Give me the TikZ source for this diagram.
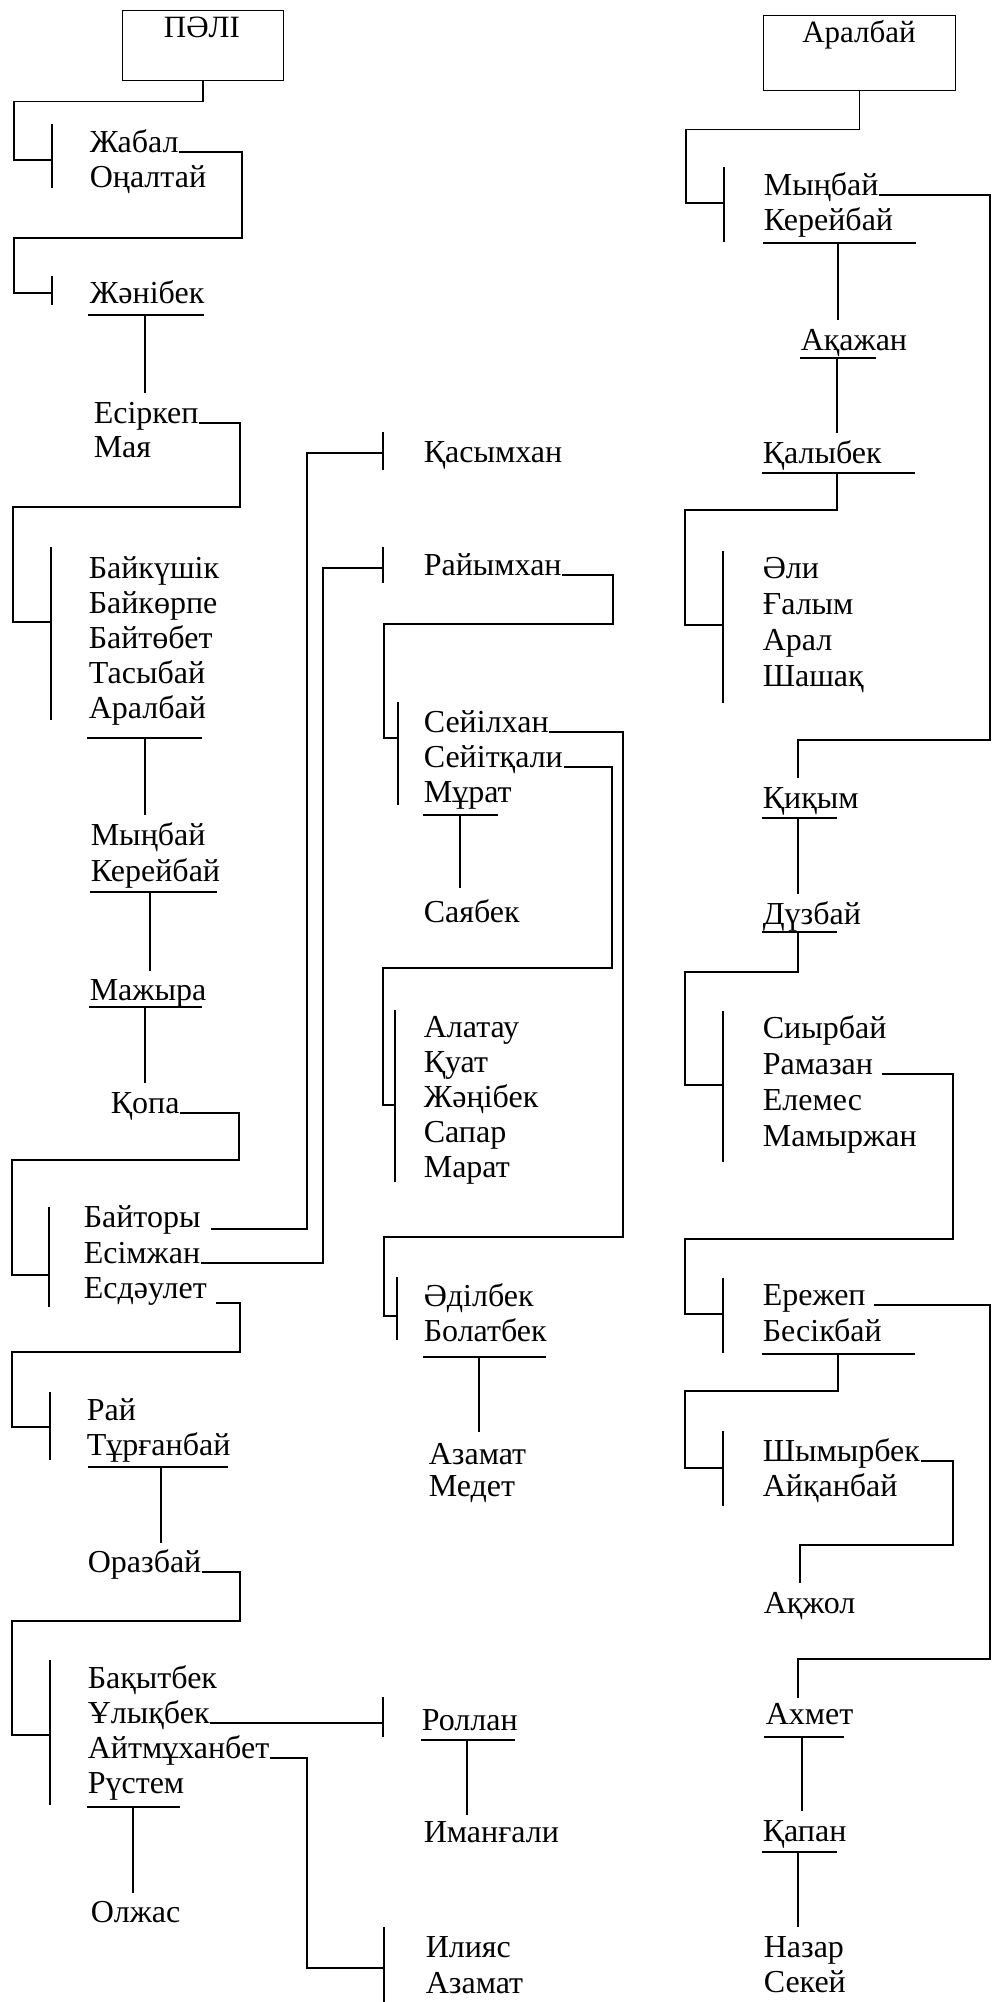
\documentclass[tikz,border=0pt]{standalone}
\usepackage{fontspec}
\setmainfont{Liberation Serif}
\usetikzlibrary{calc}
\begin{document}
\begin{tikzpicture}[x=1pt,y=-1pt,
  nm/.style={anchor=base west, inner sep=0pt, font=\fontsize{32}{35}\selectfont},
  ttl/.style={anchor=base, inner sep=0pt, font=\fontsize{31}{35}\selectfont},
  box/.style={draw, line width=1.3pt, anchor=north west, inner sep=0pt},
  every path/.style={line width=1.6pt}]
\useasboundingbox (0,0) rectangle (992,2002);
% ---------- left column ----------
\node[box, minimum width=161pt, minimum height=70pt] (palibox) at (122,10) {};
\node[ttl] (pali) at (202,38) {ПӘЛІ};
\node[nm] (jabal) at (89,152) {Жабал};
\node[nm] (onaltai) at (89,187) {Оңалтай};
\node[nm] (zhanibek) at (89,303) {Жәнібек};
\node[nm] (esirkep) at (93,423) {Есіркеп};
\node[nm] (maya) at (93,457) {Мая};
\node[nm] (baikushik) at (88,578) {Байкүшік};
\node[nm] (baikorpe) at (88,613) {Байкөрпе};
\node[nm] (baitobet) at (88,648) {Байтөбет};
\node[nm] (tasybai) at (88,683) {Тасыбай};
\node[nm] (aralbaiL) at (88,718) {Аралбай};
\node[nm] (mynbaiL) at (90,845) {Мыңбай};
\node[nm] (kereibaiL) at (90,881) {Керейбай};
\node[nm] (mazhyra) at (89,1000) {Мажыра};
\node[nm] (kopa) at (110,1113) {Қопа};
\node[nm] (baitory) at (83,1227) {Байторы};
\node[nm] (esimzhan) at (83,1263) {Есімжан};
\node[nm] (esdaulet) at (83,1298) {Есдәулет};
\node[nm] (rai) at (86,1420) {Рай};
\node[nm] (turganbai) at (86,1455) {Тұрғанбай};
\node[nm] (orazbai) at (87,1572) {Оразбай};
\node[nm] (bakytbek) at (87,1688) {Бақытбек};
\node[nm] (ulykbek) at (87,1723) {Ұлықбек};
\node[nm] (aitmukhanbet) at (87,1758) {Айтмұханбет};
\node[nm] (rustem) at (87,1793) {Рүстем};
\node[nm] (olzhas) at (90,1922) {Олжас};
% ---------- middle column ----------
\node[nm] (kasymkhan) at (423,462) {Қасымхан};
\node[nm] (raiymkhan) at (423,575) {Райымхан};
\node[nm] (seilkhan) at (423,732) {Сейілхан};
\node[nm] (seitkali) at (423,767) {Сейітқали};
\node[nm] (murat) at (423,802) {Мұрат};
\node[nm] (sayabek) at (423,922) {Саябек};
\node[nm] (alatau) at (423,1037) {Алатау};
\node[nm] (kuat) at (423,1072) {Қуат};
\node[nm] (zhanibekM) at (423,1107) {Жәңібек};
\node[nm] (sapar) at (423,1142) {Сапар};
\node[nm] (marat) at (423,1177) {Марат};
\node[nm] (adilbek) at (423,1306) {Әділбек};
\node[nm] (bolatbek) at (423,1341) {Болатбек};
\node[nm] (azamatA) at (428,1464) {Азамат};
\node[nm] (medet) at (428,1496) {Медет};
\node[nm] (rollan) at (421,1730) {Роллан};
\node[nm] (imangali) at (423,1842) {Иманғали};
\node[nm] (iliyas) at (425,1957) {Илияс};
\node[nm] (azamatB) at (425,1993) {Азамат};
% ---------- right column ----------
\node[box, minimum width=192pt, minimum height=75pt] (aralbox) at (763,15) {};
\node[ttl] (aralbaiT) at (859,43) {Аралбай};
\node[nm] (mynbaiR) at (763,195) {Мыңбай};
\node[nm] (kereibaiR) at (763,230) {Керейбай};
\node[nm] (akazhan) at (800,350) {Ақажан};
\node[nm] (kalybek) at (762,463) {Қалыбек};
\node[nm] (ali) at (762,578) {Әли};
\node[nm] (galym) at (762,614) {Ғалым};
\node[nm] (aral) at (762,650) {Арал};
\node[nm] (shashak) at (762,686) {Шашақ};
\node[nm] (kikym) at (762,808) {Қиқым};
\node[nm] (duzbai) at (762,924) {Дүзбай};
\node[nm] (siyrbai) at (762,1038) {Сиырбай};
\node[nm] (ramazan) at (762,1074) {Рамазан};
\node[nm] (elemes) at (762,1110) {Елемес};
\node[nm] (mamyrzhan) at (762,1146) {Мамыржан};
\node[nm] (erezhep) at (762,1305) {Ережеп};
\node[nm] (besikbai) at (762,1341) {Бесікбай};
\node[nm] (shymyrbek) at (762,1461) {Шымырбек};
\node[nm] (aikanbai) at (762,1496) {Айқанбай};
\node[nm] (akzhol) at (763,1613) {Ақжол};
\node[nm] (akhmet) at (765,1724) {Ахмет};
\node[nm] (kapan) at (762,1841) {Қапан};
\node[nm] (nazar) at (763,1957) {Назар};
\node[nm] (sekei) at (763,1992) {Секей};

% ===== left connectors =====
\draw (palibox.south) -- ++(0,20) -| (14,160) -- (52,160);
\draw (52,124) -- (52,188);
\draw (jabal.base east) -| (242,238) -| (14,293) -- (52,293);
\draw (52,276) -- (52,305);
\draw (88,315) -- (204,315);
\draw (145,315) -- (145,393);
\draw (esirkep.base east) -| (240,507) -| (13,622) -- (51,622);
\draw (51,547) -- (51,720);
\draw (87,738) -- (202,738);
\draw (145,738) -- (145,815);
\draw (90,892) -- (217,892);
\draw (150,892) -- (150,971);
\draw (89,1007) -- (202,1007);
\draw (145,1007) -- (145,1083);
\draw (kopa.base east) -| (239,1160) -| (12,1275) -- (49,1275);
\draw (49,1207) -- (49,1307);
\draw ($(baitory.base east)+(10,2)$) -| (307,453) -- (383,453);
\draw (esimzhan.base east) -| (323,568) -- (383,568);
\draw ($(esdaulet.base east)+(8,5)$) -| (240,1352) -| (12,1427) -- (50,1427);
\draw (50,1392) -- (50,1460);
\draw (88,1467) -- (228,1467);
\draw (161,1467) -- (161,1543);
\draw (orazbai.base east) -| (240,1621) -| (12,1735) -- (50,1735);
\draw (50,1660) -- (50,1805);
\draw (ulykbek.base east) -- (383,1723);
\draw (383,1697) -- (383,1737);
\draw (aitmukhanbet.base east) -| (307,1968) -- (384,1968);
\draw (384,1927) -- (384,2002);
\draw (87,1807) -- (180,1807);
\draw (133,1807) -- (133,1893);
% ===== middle connectors =====
\draw (383,432) -- (383,470);
\draw (383,547) -- (383,583);
\draw (raiymkhan.base east) -| (613,624) -| (384,738) -- (398,738);
\draw (398,702) -- (398,805);
\draw (423,815) -- (498,815);
\draw (460,815) -- (460,888);
\draw (seitkali.base east) -| (612,968) -| (383,1105) -- (395,1105);
\draw (395,1010) -- (395,1182);
\draw (seilkhan.base east) -| (623,1237) -| (384,1316) -- (397,1316);
\draw (397,1277) -- (397,1340);
\draw (423,1357) -- (546,1357);
\draw (479,1357) -- (479,1432);
\draw (421,1740) -- (515,1740);
\draw (467,1740) -- (467,1815);
% ===== right connectors =====
\draw (aralbox.south) -- ++(0,38) -| (686,203) -- (724,203);
\draw (724,167) -- (724,242);
\draw (mynbaiR.base east) -| (990,740) -| (798,778);
\draw (763,243) -- (916,243);
\draw (838,243) -- (838,320);
\draw (800,358) -- (876,358);
\draw (837,358) -- (837,433);
\draw (762,473) -- (915,473);
\draw (837,473) -- (837,510) -| (685,625) -- (723,625);
\draw (723,551) -- (723,703);
\draw (762,818) -- (837,818);
\draw (798,818) -- (798,894);
\draw (762,932) -- (837,932);
\draw (798,932) -- (798,972) -| (685,1085) -- (723,1085);
\draw (723,1011) -- (723,1162);
\draw ($(ramazan.base east)+(8,0)$) -| (953,1239) -| (685,1314) -- (723,1314);
\draw (723,1278) -- (723,1353);
\draw ($(erezhep.base east)+(8,0)$) -| (990,1659) -| (798,1698);
\draw (762,1354) -- (915,1354);
\draw (838,1354) -- (838,1391) -| (685,1468) -- (723,1468);
\draw (723,1431) -- (723,1506);
\draw (shymyrbek.base east) -| (953,1545) -| (800,1583);
\draw (764,1737) -- (844,1737);
\draw (802,1737) -- (802,1811);
\draw (762,1852) -- (837,1852);
\draw (798,1852) -- (798,1927);
\end{tikzpicture}
\end{document}
